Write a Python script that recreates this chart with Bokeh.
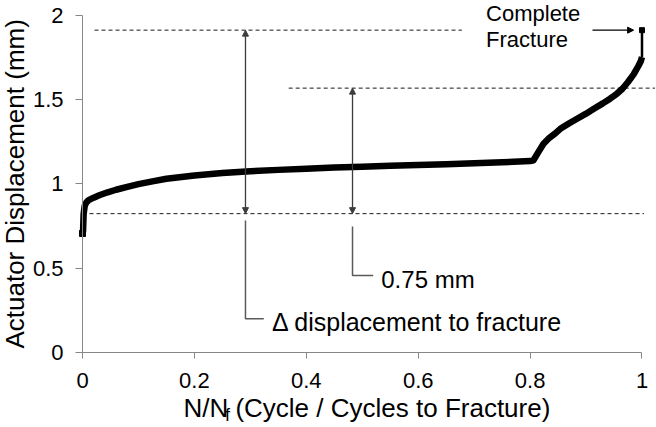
from bokeh.plotting import figure
from bokeh.models import Range1d, FixedTicker, Label, Arrow, NormalHead
from bokeh.embed import file_html
from bokeh.resources import INLINE
import math

# ---- data ----
cycle_frac = [0.0, 0.001, 0.002, 0.004, 0.007, 0.011, 0.02, 0.03, 0.045, 0.06,
              0.08, 0.1, 0.125, 0.15, 0.2, 0.25, 0.3, 0.35, 0.4, 0.45,
              0.5, 0.55, 0.6, 0.65, 0.7, 0.75, 0.8, 0.806, 0.815, 0.824,
              0.835, 0.845, 0.854, 0.87, 0.884, 0.9, 0.914, 0.93, 0.943, 0.955,
              0.965, 0.975, 0.985, 0.994, 0.998, 1.0]
displacement = [0.705, 0.72, 0.82, 0.87, 0.89, 0.903, 0.918, 0.932, 0.95, 0.965,
                0.982, 0.998, 1.015, 1.03, 1.05, 1.065, 1.075, 1.083, 1.09, 1.097,
                1.102, 1.107, 1.112, 1.117, 1.122, 1.128, 1.135, 1.14, 1.19, 1.238,
                1.275, 1.30, 1.327, 1.36, 1.387, 1.417, 1.446, 1.478, 1.506, 1.535,
                1.565, 1.605, 1.65, 1.703, 1.73, 1.753]
fracture_x = [1.0, 1.0]
fracture_y = [1.753, 1.913]

x_ticks = [0, 0.2, 0.4, 0.6, 0.8, 1.0]
x_tick_labels = ["0", "0.2", "0.4", "0.6", "0.8", "1"]
y_ticks = [0, 0.5, 1.0, 1.5, 2.0]
y_tick_labels = ["0", "0.5", "1", "1.5", "2"]

ref_low = 0.823        # dashed baseline level
ref_mid = 1.5686       # level 0.75 mm above the baseline
ref_top = 1.913        # complete fracture level

FONT = "Liberation Sans"

# frame covers the whole canvas; axes are pinned at x=0 / y=0
p = figure(width=656, height=427,
           x_range=Range1d(-0.14656, 1.02592), y_range=Range1d(-0.4473, 2.0891),
           output_backend="svg", toolbar_location=None,
           min_border_left=0, min_border_right=0,
           min_border_top=0, min_border_bottom=0)
p.outline_line_color = None
p.xgrid.grid_line_color = None
p.ygrid.grid_line_color = None

axis_col = "#868686"
for ax in (p.xaxis[0], p.yaxis[0]):
    ax.fixed_location = 0
    ax.axis_line_color = axis_col
    ax.axis_line_width = 1
    ax.major_tick_line_color = axis_col
    ax.minor_tick_line_color = None
    ax.major_tick_in = 0
    ax.major_label_text_font = FONT
    ax.major_label_text_font_size = "22px"
    ax.major_label_text_color = "black"

p.xaxis.ticker = FixedTicker(ticks=x_ticks)
p.xaxis.major_label_overrides = dict(zip(x_ticks, x_tick_labels))
p.xaxis.bounds = (0, 1)
p.xaxis.major_tick_out = 6
p.xaxis.major_label_standoff = 15

p.yaxis.ticker = FixedTicker(ticks=y_ticks)
p.yaxis.major_label_overrides = dict(zip(y_ticks, y_tick_labels))
p.yaxis.bounds = (0, 2)
p.yaxis.major_tick_out = 7
p.yaxis.major_label_standoff = 12

# dashed reference lines
dash = dict(line_color="#1a1a1a", line_width=1, line_dash="4 3")
p.line([0.0215, 0.678], [ref_top, ref_top], **dash)
p.line([0.3685, 1.0233], [ref_mid, ref_mid], **dash)
p.line([0.0, 1.0036], [ref_low, ref_low], **dash)

# data curve
p.line(cycle_frac, displacement, line_color="black", line_width=6.5, line_join="round")
p.line(fracture_x, fracture_y, line_color="black", line_width=2.5)
p.scatter([cycle_frac[0]], [displacement[0]], marker="square", size=6, color="black")
p.scatter([fracture_x[-1]], [fracture_y[-1]], marker="square", size=5, color="black")

# double arrows
arr_col = "#3c3c3c"
def dbl_arrow(x, y0, y1):
    p.add_layout(Arrow(x_start=x, y_start=y0, x_end=x, y_end=y1,
                       line_color=arr_col, line_width=1.3,
                       start=NormalHead(size=6, fill_color=arr_col, line_color=arr_col),
                       end=NormalHead(size=6, fill_color=arr_col, line_color=arr_col)))
dbl_arrow(0.2913, ref_top, ref_low)
dbl_arrow(0.4826, ref_mid, ref_low)

# callout lines
call = dict(line_color="#5a5a5a", line_width=1.5)
p.line([0.2913, 0.2913, 0.324], [0.782, 0.198, 0.198], **call)
p.line([0.4826, 0.4826, 0.5196], [0.747, 0.456, 0.456], **call)

# complete fracture arrow
p.add_layout(Arrow(x_start=0.9115, y_start=ref_top, x_end=0.985, y_end=ref_top,
                   line_color="black", line_width=1.2,
                   end=NormalHead(size=6, fill_color="black", line_color="black")))

def label(x, y, text, size, **kw):
    p.add_layout(Label(x=x, y=y, text=text, text_font=FONT, text_font_size=size,
                       text_color="black", text_baseline="middle", **kw))

label(0.3387, 0.1794, "\u0394 displacement to fracture", "25px")
label(0.534, 0.4312, "0.75 mm", "24px")
label(0.7213, 2.0119, "Complete", "22px")
label(0.7213, 1.8575, "Fracture", "22px")

# axis titles
label(0.1805, -0.3338, "N/N", "26px")
label(0.2547, -0.3742, "f", "18px")
label(0.2733, -0.3338, "(Cycle / Cycles to Fracture)", "26px")
label(-0.1215, 1.0, "Actuator Displacement (mm)", "26px",
      angle=math.pi / 2, text_align="center")

open("out.html", "w").write(file_html(p, INLINE))
